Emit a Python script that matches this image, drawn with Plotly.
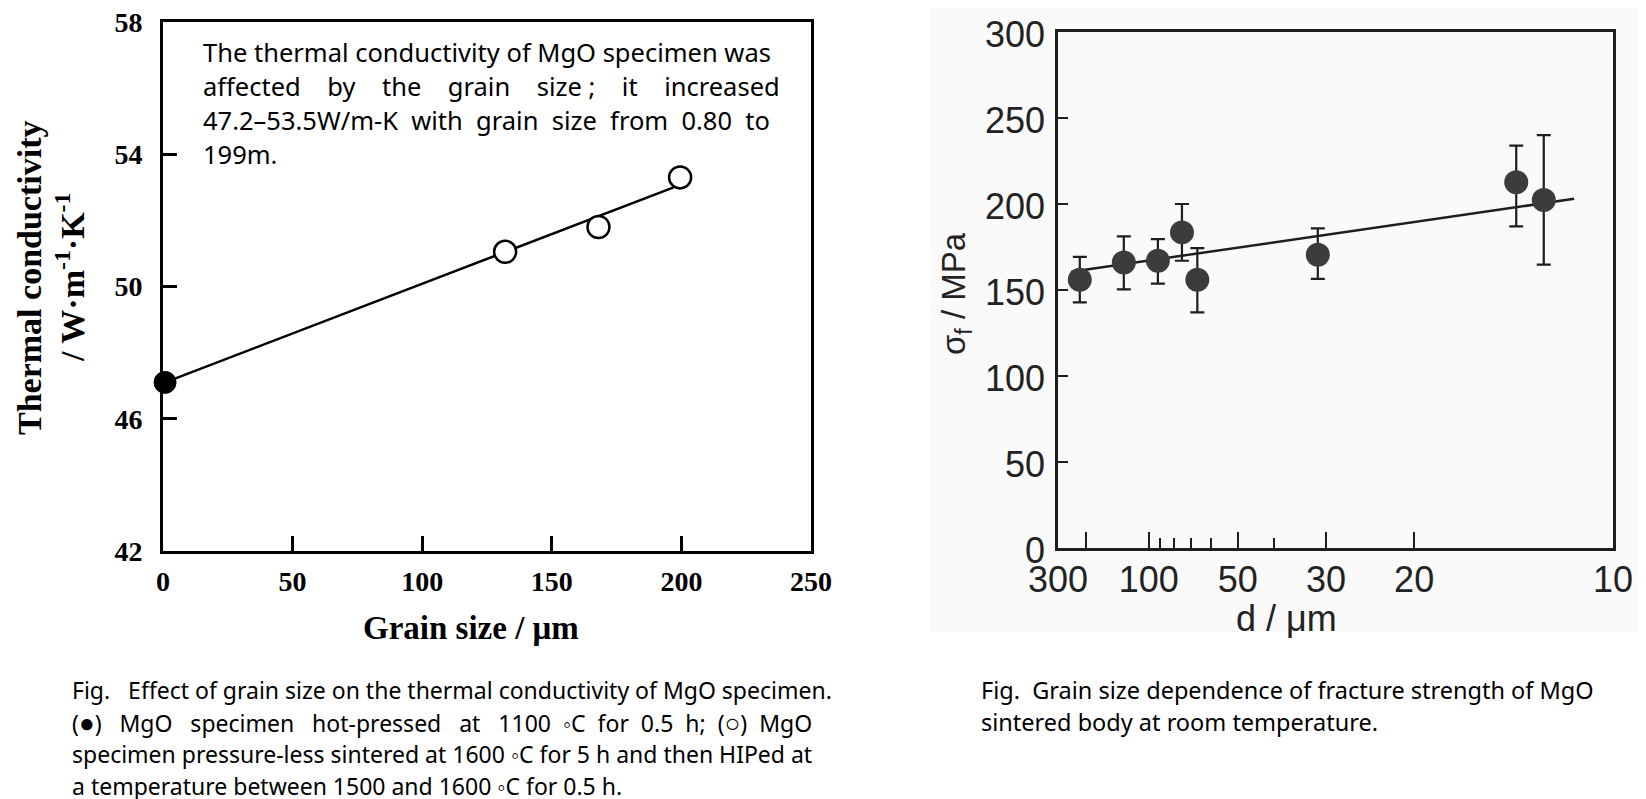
import plotly.graph_objects as go

W, H = 1646, 799

# ---------------- data: left panel (thermal conductivity) ----------------
hp_grain = [0.8]              # hot-pressed (filled)
hp_tc = [47.1]
hip_grain = [132, 168, 199.5]  # pressure-less sintered + HIP (open)
hip_tc = [51.05, 51.8, 53.3]
fit_left_grain = [0.8, 197]
fit_left_tc = [47.1, 53.0]
left_xticks = [0, 50, 100, 150, 200, 250]
left_yticks = [42, 46, 50, 54, 58]

# ---------------- data: right panel (fracture strength) ----------------
d_um = [217, 128, 92, 75, 66.5, 31.3, 13.6, 12.4]
sigma_f = [156, 166, 167, 183.5, 156, 170.5, 212.6, 202.3]
err_plus = [13.3, 15.2, 12.6, 16.5, 18.4, 15.3, 21.3, 37.7]
err_minus = [13.2, 15.6, 13.3, 16.5, 19.0, 14.0, 25.6, 37.6]
fit_right_d = [245, 11.25]
fit_right_sigma = [160.6, 203]
right_tick_d = [300, 200, 100, 50, 30, 20, 10]
right_tick_text = ["300", "", "100", "50", "30", "20", "10"]
right_minor_d = [90, 80, 70, 60, 40]
right_yticks = [0, 50, 100, 150, 200, 250, 300]


def inv_sqrt(v):
    return [x ** -0.5 for x in v]


def px(x):
    return x / W


def py(y):
    return 1 - y / H


SERIF = "Liberation Serif, Times New Roman, serif"
SANS = "Liberation Sans, Arial, sans-serif"
TEXT = "Noto Sans, Open Sans, sans-serif"

fig = go.Figure()

# left panel
fig.add_trace(go.Scatter(x=fit_left_grain, y=fit_left_tc, mode="lines",
                         line=dict(color="black", width=2.5),
                         xaxis="x", yaxis="y", showlegend=False, hoverinfo="skip"))
fig.add_trace(go.Scatter(x=hip_grain, y=hip_tc, mode="markers",
                         marker=dict(size=22, color="white", line=dict(color="black", width=2.5)),
                         xaxis="x", yaxis="y", showlegend=False, cliponaxis=False))
fig.add_trace(go.Scatter(x=hp_grain, y=hp_tc, mode="markers",
                         marker=dict(size=22, color="black", line=dict(color="black", width=1)),
                         xaxis="x", yaxis="y", showlegend=False, cliponaxis=False))

# right panel
fig.add_trace(go.Scatter(x=inv_sqrt(fit_right_d), y=fit_right_sigma, mode="lines",
                         line=dict(color="#1e1e1e", width=2.5),
                         xaxis="x2", yaxis="y2", showlegend=False, hoverinfo="skip"))
fig.add_trace(go.Scatter(x=inv_sqrt(d_um), y=sigma_f, mode="markers",
                         marker=dict(size=24, color="#3c3c3c"),
                         error_y=dict(type="data", symmetric=False, array=err_plus,
                                      arrayminus=err_minus, color="#1e1e1e",
                                      thickness=2.2, width=7),
                         xaxis="x2", yaxis="y2", showlegend=False, cliponaxis=False))

axis_common = dict(showgrid=False, zeroline=False, showline=True, mirror=True,
                   ticks="inside", automargin=False, ticklabeloverflow="allow")

fig.update_layout(
    template="none",
    width=W, height=H,
    margin=dict(l=0, r=0, t=0, b=0, pad=0),
    paper_bgcolor="white",
    plot_bgcolor="rgba(0,0,0,0)",
    showlegend=False,
    xaxis=dict(axis_common, domain=[px(155), px(803)], range=[0, 250], anchor="y",
               tickvals=left_xticks, linecolor="black", linewidth=3,
               ticklen=15, tickwidth=3, tickcolor="black",
               tickfont=dict(family=SERIF, size=28, color="black", weight="bold"),
               ticklabelstandoff=3),
    yaxis=dict(axis_common, domain=[py(543), py(14)], range=[42, 58], anchor="x",
               tickvals=left_yticks, linecolor="black", linewidth=3,
               ticklen=14, tickwidth=3, tickcolor="black",
               tickfont=dict(family=SERIF, size=28, color="black", weight="bold"),
               ticklabelstandoff=12),
    xaxis2=dict(axis_common, domain=[px(1050), px(1605)],
                range=[300 ** -0.5, 10 ** -0.5], anchor="y2",
                tickmode="array", tickvals=inv_sqrt(right_tick_d), ticktext=right_tick_text,
                linecolor="#1e1e1e", linewidth=2.5,
                ticklen=16, tickwidth=2, tickcolor="#1e1e1e",
                minor=dict(tickmode="array", tickvals=inv_sqrt(right_minor_d),
                           ticks="inside", ticklen=10, tickwidth=2, tickcolor="#1e1e1e"),
                tickfont=dict(family=SANS, size=36, color="#222222"),
                ticklabelstandoff=-2),
    yaxis2=dict(axis_common, domain=[py(540), py(24)], range=[0, 300], anchor="x2",
                tickvals=right_yticks, linecolor="#1e1e1e", linewidth=2.5,
                ticklen=10, tickwidth=2, tickcolor="#1e1e1e",
                tickfont=dict(family=SANS, size=36, color="#222222"),
                ticklabelstandoff=3, ticklabelshift=2),
)

# scanned background for right figure
fig.add_shape(type="rect", xref="paper", yref="paper",
              x0=px(922), x1=1, y0=py(624), y1=1,
              fillcolor="#fafafa", line=dict(width=0), layer="below")

ann = []


def add_text(text, x, y, size, family, xanchor="center", angle=0, color="black", weight="normal"):
    ann.append(dict(text=text, x=px(x), y=py(y), xref="paper", yref="paper",
                    showarrow=False, xanchor=xanchor, yanchor="middle", textangle=angle,
                    font=dict(family=family, size=size, color=color, weight=weight)))


# left titles
add_text("Grain size / \u03bcm", 463, 620, 33, SERIF, weight="bold")
add_text("Thermal conductivity", 22, 270, 34, SERIF, angle=-90, weight="bold")
add_text("/ W\u00b7m<sup>-1</sup>\u00b7K<sup>-1</sup>", 62, 270, 34, SERIF, angle=-90, weight="bold")

# right titles
add_text("\u03c3<sub>f</sub> / MPa", 948, 285, 33, SANS, angle=-90, color="#222222")
add_text("d / \u03bcm", 1278, 610, 36, SANS, color="#222222")

# note inside left plot
nb = "\u00a0"
note_lines = [
    "The thermal conductivity of MgO specimen was",
    (nb * 4).join(["affected", "by", "the", "grain", "size ;", "it", "increased"]),
    (" " + nb).join(["47.2\u201353.5W/m-K", "with", "grain", "size", "from", "0.80", "to"]),
    "199m.",
]
for i, t in enumerate(note_lines):
    add_text(t, 193, 44 + 34 * i, 25.5, TEXT, xanchor="left")

# captions
big_dot = '<span style="font-size:26px">\u25cf</span>'
big_ring = '<span style="font-size:26px">\u25cb</span>'
w2 = " " + nb * 2
w1 = " " + nb
cap_line2 = ("(" + big_dot + ")" + w2 + "MgO" + w2 + "specimen" + w2 + "hot-pressed" + w2 + "at"
             + w2 + "1100" + w1 + "\u25e6C" + w1 + "for" + w1 + "0.5" + w1 + "h;" + w1
             + "(" + big_ring + ")" + w1 + "MgO")
cap_left = [
    "Fig.\u00a0\u00a0 Effect of grain size on the thermal conductivity of MgO specimen.",
    cap_line2,
    "specimen pressure-less sintered at 1600 \u25e6C for 5 h and then HIPed at",
    "a temperature between 1500 and 1600 \u25e6C for 0.5 h.",
]
for i, t in enumerate(cap_left):
    add_text(t, 62, 682 + 32 * i, 23, TEXT, xanchor="left")

cap_right = [
    "Fig.\u00a0 Grain size dependence of fracture strength of MgO",
    "sintered body at room temperature.",
]
for i, t in enumerate(cap_right):
    add_text(t, 971, 682 + 32 * i, 23.5, TEXT, xanchor="left")

fig.update_layout(annotations=ann)

fig.write_html("out.html")
